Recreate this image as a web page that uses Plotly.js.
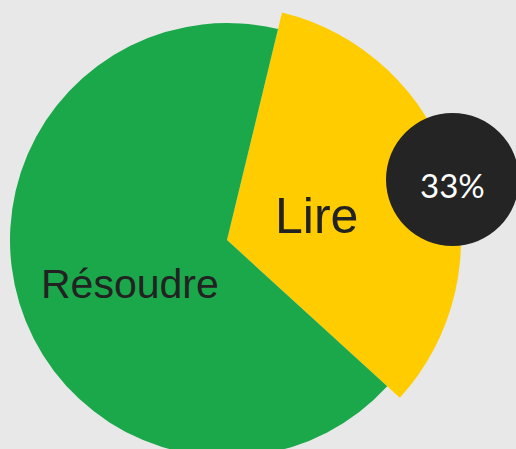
<!DOCTYPE html>
<html>
<head>
<meta charset="utf-8">
<script src="https://cdn.plot.ly/plotly-3.0.1.min.js"></script>
<style>
html,body{margin:0;padding:0;background:#e8e8e8;overflow:hidden;width:516px;height:449px;}
#chart{position:absolute;left:-20px;top:0;width:556px;height:500px;}
</style>
</head>
<body>
<div id="chart"></div>
<script>
// data
const labels = ['Lire', 'Résoudre'];
const values = [33, 67];
const colors = ['#FFCC00', '#1AA84A'];
const highlightIndex = 0;

const W = 556, H = 500;
const total = values.reduce((a, b) => a + b, 0);
const pct = Math.round(values[highlightIndex] / total * 100) + '%';

const transparent = 'rgba(0,0,0,0)';
function px(x0, x1) { return [x0 / W, x1 / W]; }
function py(top, bottom) { return [1 - bottom / H, 1 - top / H]; }

const common = {
  type: 'pie', labels: labels, values: values, sort: false,
  direction: 'clockwise', rotation: 13.6, textinfo: 'none',
  hoverinfo: 'label+percent', showlegend: false
};

const bigPie = Object.assign({}, common, {
  marker: { colors: labels.map((l, i) => i === highlightIndex ? colors[i] : transparent), line: { width: 0 } },
  domain: { x: px(13, 481), y: py(6, 474) }
});
const smallPie = Object.assign({}, common, {
  marker: { colors: labels.map((l, i) => i === highlightIndex ? transparent : colors[i]), line: { width: 0 } },
  domain: { x: px(30, 464), y: py(23, 457) }
});

const layout = {
  width: W, height: H,
  margin: { l: 0, r: 0, t: 0, b: 0 },
  paper_bgcolor: '#e8e8e8', plot_bgcolor: '#e8e8e8',
  shapes: [{
    type: 'circle', xref: 'paper', yref: 'paper',
    x0: 406 / W, x1: 539 / W, y0: 1 - 246 / H, y1: 1 - 113 / H,
    fillcolor: '#242424', line: { width: 0 }, layer: 'above'
  }],
  annotations: [
    { text: labels[0], xref: 'paper', yref: 'paper', x: 336.5 / W, y: 1 - 216 / H,
      showarrow: false, xanchor: 'center', yanchor: 'middle',
      font: { family: 'Liberation Sans, Arial, sans-serif', size: 50, color: '#222222' } },
    { text: labels[1], xref: 'paper', yref: 'paper', x: 150 / W, y: 1 - 284 / H,
      showarrow: false, xanchor: 'center', yanchor: 'middle',
      font: { family: 'Liberation Sans, Arial, sans-serif', size: 41, color: '#222222' } },
    { text: pct, xref: 'paper', yref: 'paper', x: 472.5 / W, y: 1 - 185 / H,
      showarrow: false, xanchor: 'center', yanchor: 'middle',
      font: { family: 'Lato, Inter, sans-serif', size: 33, color: '#ffffff' } }
  ]
};

Plotly.newPlot('chart', [bigPie, smallPie], layout, { displayModeBar: false, staticPlot: true });
</script>
</body>
</html>
